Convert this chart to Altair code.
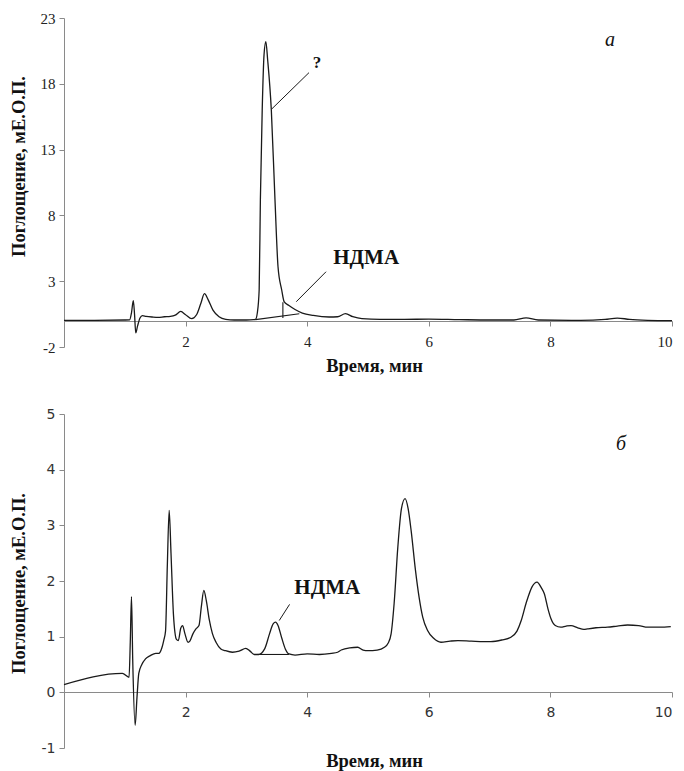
import altair as alt
import pandas as pd

SERIF = "Liberation Serif"
SANS = "DejaVu Sans"

# ---- panel a (top) chromatogram ----
top_t = [0.0, 0.5, 1.0, 1.08, 1.11, 1.14, 1.16, 1.18, 1.21, 1.25, 1.29, 1.35, 1.45, 1.55, 1.65,
         1.75, 1.83, 1.92, 2.0, 2.1, 2.18, 2.25, 2.31, 2.37, 2.45, 2.55, 2.66, 2.8, 3.0, 3.12,
         3.15, 3.18, 3.21, 3.23, 3.26, 3.29, 3.32, 3.35, 3.41, 3.47, 3.52, 3.58, 3.62, 3.7, 3.8,
         3.92, 4.1, 4.36, 4.5, 4.63, 4.75, 4.9, 5.2, 5.6, 6.0, 6.5, 7.0, 7.4, 7.6, 7.8,
         8.5, 8.9, 9.1, 9.3, 9.6, 10.0]
top_a = [0.02, 0.03, 0.05, 0.06, 0.6, 1.52, 0.5, -0.93, -0.4, 0.2, 0.38, 0.33, 0.28, 0.25, 0.3,
         0.33, 0.42, 0.7, 0.45, 0.15, 0.45, 1.3, 2.05, 1.6, 0.8, 0.3, 0.1, 0.05, 0.05, 0.08,
         0.1, 0.6, 2.35, 9.2, 16.0, 20.2, 21.2, 19.8, 16.0, 9.2, 4.1, 2.35, 1.45, 1.15, 0.85,
         0.58, 0.4, 0.28, 0.3, 0.53, 0.3, 0.15, 0.1, 0.1, 0.12, 0.08, 0.05, 0.05, 0.22, 0.05,
         0.02, 0.1, 0.2, 0.1, 0.03, 0.0]

# ---- panel b (bottom) chromatogram ----
bot_t = [0.0, 0.96, 1.07, 1.09, 1.11, 1.13, 1.17, 1.2, 1.23, 1.28, 1.34, 1.42, 1.51, 1.56, 1.61,
         1.64, 1.67, 1.7, 1.73, 1.76, 1.8, 1.85, 1.88, 1.92, 1.95, 1.99, 2.04, 2.07, 2.12, 2.17,
         2.22, 2.26, 2.3, 2.34, 2.39, 2.44, 2.5, 2.58, 2.65, 2.77, 2.88, 2.99, 3.06, 3.13, 3.2,
         3.3, 3.38, 3.44, 3.48, 3.52, 3.58, 3.64, 3.7, 3.8, 4.0, 4.2, 4.4, 4.5, 4.56, 4.7,
         4.83, 4.92, 5.0, 5.15, 5.27, 5.33, 5.38, 5.43, 5.49, 5.55, 5.61, 5.66, 5.71, 5.78, 5.84,
         5.9, 5.98, 6.08, 6.2, 6.35, 6.48, 6.7, 7.02, 7.2, 7.35, 7.45, 7.52, 7.6, 7.7, 7.78,
         7.85, 7.9, 7.96, 8.01, 8.08, 8.17, 8.26, 8.34, 8.45, 8.55, 8.61, 8.75, 8.94, 9.1, 9.27,
         9.45, 9.6, 9.8, 9.98]
bot_a = [0.14, 0.34, 0.27, 0.9, 1.72, 0.6, -0.59, -0.1, 0.34, 0.5, 0.6, 0.66, 0.7, 0.7, 0.8,
         0.93, 1.1, 2.3, 3.27, 2.5, 1.4, 0.95, 0.93, 1.15, 1.2, 1.05, 0.9, 0.92, 1.05, 1.14,
         1.2, 1.55, 1.83, 1.65, 1.3, 1.06, 0.9, 0.78, 0.75, 0.72, 0.74, 0.79, 0.74, 0.68, 0.68,
         0.78, 1.05, 1.23, 1.26, 1.2, 0.98, 0.78, 0.69, 0.67, 0.69, 0.68, 0.7, 0.72, 0.76, 0.8,
         0.81, 0.76, 0.75, 0.76, 0.81, 0.88, 1.05, 1.6, 2.6, 3.3, 3.48, 3.3, 2.9, 2.2, 1.71,
         1.35, 1.11, 0.97, 0.9, 0.92, 0.93, 0.92, 0.91, 0.94, 0.99, 1.1, 1.29, 1.6, 1.9, 1.98,
         1.88, 1.77, 1.5, 1.32, 1.2, 1.17, 1.19, 1.2, 1.16, 1.13, 1.14, 1.16, 1.17, 1.19, 1.21,
         1.2, 1.17, 1.17, 1.18]

# integration baselines / drop lines: x1, y1, x2, y2
top_seg_x1 = [3.15, 3.6]
top_seg_y1 = [0.08, 0.2]
top_seg_x2 = [3.87, 3.6]
top_seg_y2 = [0.53, 1.4]
bot_seg_x1 = [3.18]
bot_seg_y1 = [0.68]
bot_seg_x2 = [3.7]
bot_seg_y2 = [0.68]

# leader lines
top_lead_x1 = [4.03, 4.31]
top_lead_y1 = [18.85, 3.72]
top_lead_x2 = [3.42, 3.82]
top_lead_y2 = [16.1, 1.44]
bot_lead_x1 = [3.71]
bot_lead_y1 = [1.58]
bot_lead_x2 = [3.54]
bot_lead_y2 = [1.29]

# labels
top_lbl_text = ["?", "НДМА"]
top_lbl_x = [4.16, 4.97]
top_lbl_y = [19.6, 4.8]
top_letter = ["а"]
top_letter_x = [8.98]
top_letter_y = [21.35]
bot_lbl_text = ["НДМА"]
bot_lbl_x = [4.33]
bot_lbl_y = [1.87]
bot_letter = ["б"]
bot_letter_x = [9.16]
bot_letter_y = [4.47]

x_ticks = [2, 4, 6, 8, 10]
top_y_ticks = [-2, 3, 8, 13, 18, 23]
bot_y_ticks = [-1, 0, 1, 2, 3, 4, 5]

X_TITLE = "Время, мин"
Y_TITLE = "Поглощение, мЕ.О.П."


def panel(t, a, sx1, sy1, sx2, sy2, lx1, ly1, lx2, ly2, lt, ltx, lty, let, letx, lety,
          ydom, yticks, h, y0_off, x_title_y, y_title_y, lfont, lsize, lcolor):
    xs = alt.Scale(domain=[0, 10], nice=False)
    ys = alt.Scale(domain=ydom, nice=False)
    xaxis = alt.Axis(values=x_ticks, title=X_TITLE, offset=y0_off, tickSize=5,
                     labelPadding=8, titleY=x_title_y, titleBaseline="middle",
                     titleX=310, labelExpr="'' + datum.value",
                     labelFont=lfont, labelFontSize=lsize, labelColor=lcolor)
    yaxis = alt.Axis(values=yticks, title=Y_TITLE, tickSize=5, labelPadding=4,
                     titleX=-46, titleY=y_title_y, titleBaseline="middle", titleAngle=-90,
                     labelExpr="'' + datum.value",
                     labelFont=lfont, labelFontSize=lsize, labelColor=lcolor)
    curve = alt.Chart(pd.DataFrame({"t": t, "a": a})).mark_line(
        color="#1a1a1a", strokeWidth=1.3, interpolate="monotone"
    ).encode(x=alt.X("t:Q", scale=xs, axis=xaxis), y=alt.Y("a:Q", scale=ys, axis=yaxis))
    segs = alt.Chart(pd.DataFrame({"x1": sx1, "y1": sy1, "x2": sx2, "y2": sy2})).mark_rule(
        color="#1a1a1a", strokeWidth=1.1
    ).encode(x="x1:Q", y="y1:Q", x2="x2:Q", y2="y2:Q")
    leads = alt.Chart(pd.DataFrame({"x1": lx1, "y1": ly1, "x2": lx2, "y2": ly2})).mark_rule(
        color="#1a1a1a", strokeWidth=1.0
    ).encode(x="x1:Q", y="y1:Q", x2="x2:Q", y2="y2:Q")
    sizes = [17 if s == "?" else 21 for s in lt]
    labels = alt.Chart(pd.DataFrame({"s": lt, "x": ltx, "y": lty, "fs": sizes})).mark_text(
        font=SERIF, fontWeight="bold", color="#111", baseline="middle", align="center"
    ).encode(x="x:Q", y="y:Q", text="s:N", size=alt.Size("fs:Q", scale=None, legend=None))
    letter = alt.Chart(pd.DataFrame({"s": let, "x": letx, "y": lety})).mark_text(
        font=SERIF, fontStyle="italic", fontSize=20, color="#111", baseline="middle",
        align="center"
    ).encode(x="x:Q", y="y:Q", text="s:N")
    return alt.layer(curve, segs, leads, labels, letter).properties(width=608, height=h)


top = panel(top_t, top_a, top_seg_x1, top_seg_y1, top_seg_x2, top_seg_y2,
            top_lead_x1, top_lead_y1, top_lead_x2, top_lead_y2,
            top_lbl_text, top_lbl_x, top_lbl_y, top_letter, top_letter_x, top_letter_y,
            [-2, 23], top_y_ticks, 329, -26, 44, 148, SERIF, 15, "#222")
bot = panel(bot_t, bot_a, bot_seg_x1, bot_seg_y1, bot_seg_x2, bot_seg_y2,
            bot_lead_x1, bot_lead_y1, bot_lead_x2, bot_lead_y2,
            bot_lbl_text, bot_lbl_x, bot_lbl_y, bot_letter, bot_letter_x, bot_letter_y,
            [-1, 5], bot_y_ticks, 334, -56, 68, 169, SANS, 14, "#333")

chart = alt.vconcat(top, bot, spacing=32).properties(
    padding={"left": 9, "top": 11, "right": 5, "bottom": 2}
).configure_view(stroke=None).configure_text(font=SERIF).configure_axis(
    grid=False, domainColor="#8a8a8a", tickColor="#8a8a8a", domainWidth=1, tickWidth=1,
    titleFont=SERIF, titleFontSize=18.5, titleFontWeight="bold", titleColor="#111"
)

chart.save("out.html", embed_options={"renderer": "svg", "actions": False})
